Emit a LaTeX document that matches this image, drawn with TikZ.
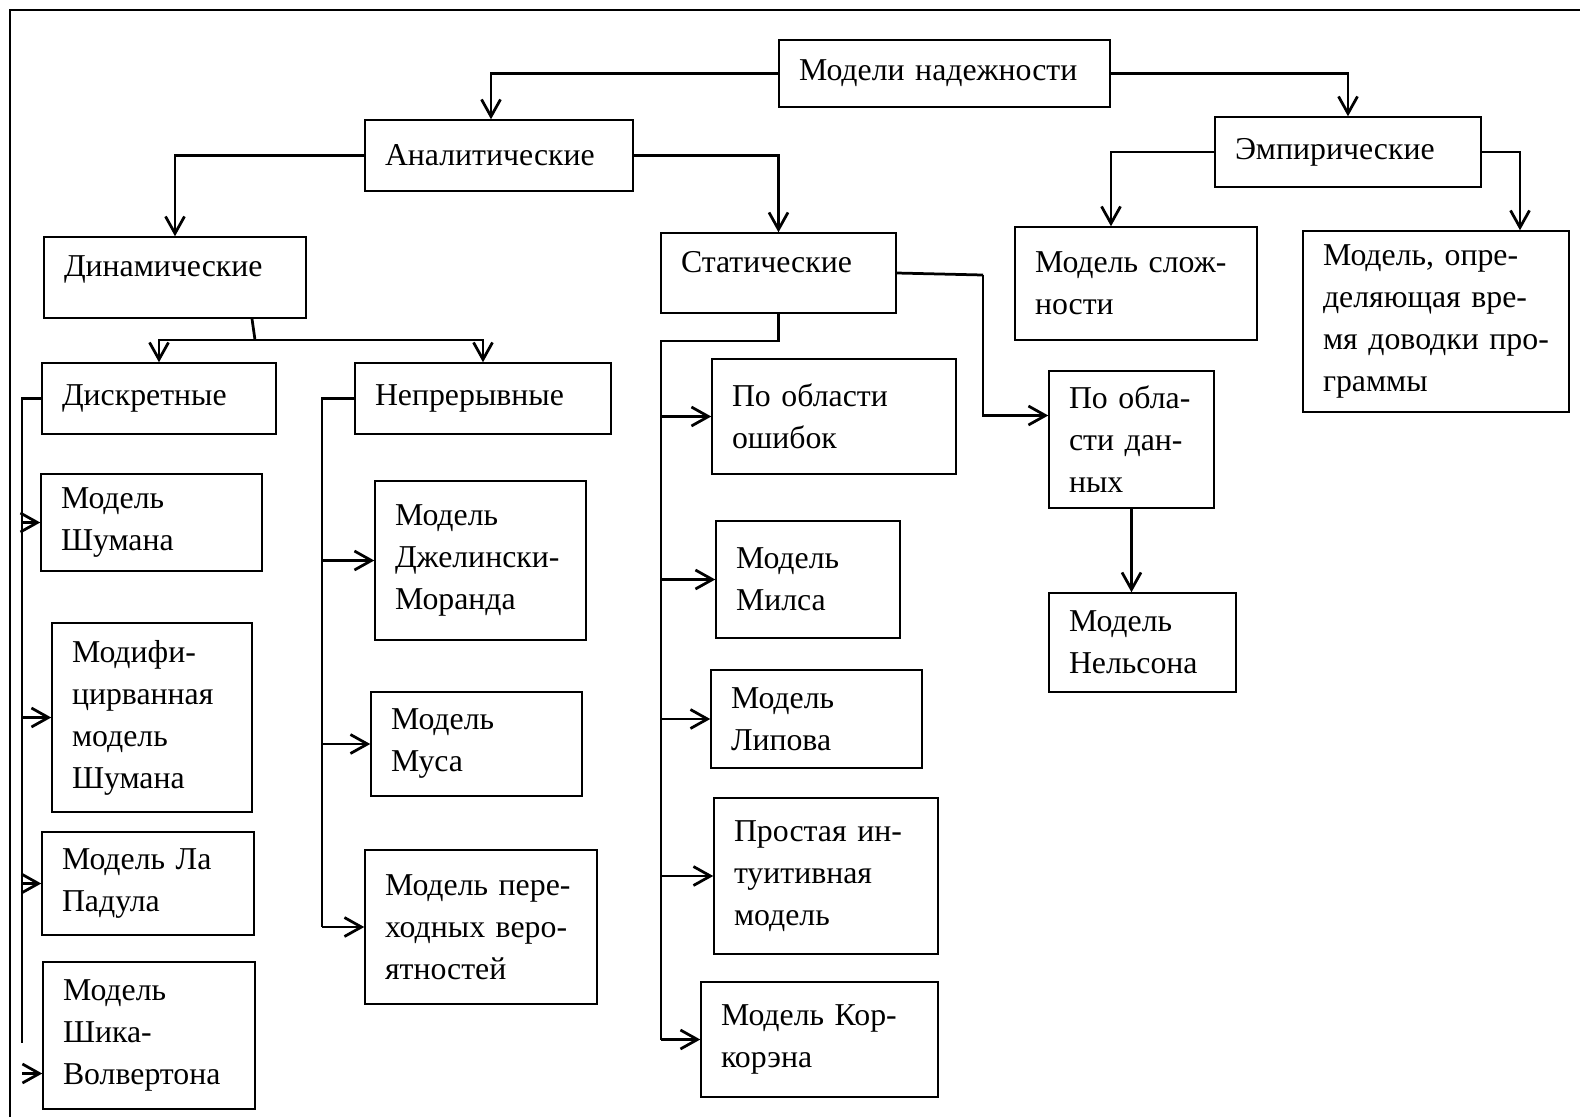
\documentclass[tikz,border=0pt]{standalone}
\usepackage{fontspec}
\setmainfont{Liberation Serif}
\usepackage{tikz}
\usetikzlibrary{arrows.meta,calc}

% one unit = one pixel of the drawing
\newlength\pxu
\setlength\pxu{0.02cm}

\tikzset{
  blok/.style 2 args={draw=black, line width=0.03cm, inner xsep=20\pxu, inner ysep=0pt,
                      align=left, minimum width=#1\pxu, minimum height=#2\pxu,
                      /utils/exec={\pgfmathsetlengthmacro\blokw{(#1-40)*0.02cm}},
                      text width=\blokw,
                      font=\fontsize{18.1pt}{23.9pt}\selectfont},
  raised/.style={text depth=22\pxu},
  line/.style={line width=0.055cm, black},
  arr/.style={line, -{Straight Barb[length=0.34cm,width=0.38cm]}},
  frame/.style={line width=0.04cm, black},
}

\begin{document}
\begin{tikzpicture}[x=0.02cm, y=-0.02cm]
  \useasboundingbox (0,0) rectangle (1580,1117);
  \draw[frame] (10,1117) -- (10,10) -- (1580,10);

  % upper levels
  \node[blok={331}{67}]  (root)  at (944.5,73.5) {Модели~надежности};
  \node[blok={268}{71}]  (ana)   at (499,155.5)  {Аналитические};
  \node[blok={266}{70}]  (emp)   at (1348,152)   {Эмпирические};
  \node[blok={262}{81}, raised] (dyn)  at (175,277.5) {Динамические};
  \node[blok={235}{80}, raised] (stat) at (778.5,273) {Статические};
  \node[blok={242}{113}] (compl) at (1136,283.5) {Модель~слож-\\ности};
  \node[blok={266}{181}] (tune)  at (1436,321.5) {Модель,~опре-\\деляющая~вре-\\мя~доводки~про-\\граммы};
  \node[blok={234}{71}]  (disc)  at (159,398.5)  {Дискретные};
  \node[blok={256}{71}]  (cont)  at (483,398.5)  {Непрерывные};
  \node[blok={244}{115}] (errs)  at (834,416.5)  {По~области\\ошибок};
  \node[blok={165}{137}] (data)  at (1131.5,439.5) {По~обла-\\сти~дан-\\ных};

  % models
  \node[blok={221}{97}]  (shum)    at (151.5,522.5) {Модель\\Шумана};
  \node[blok={200}{189}] (modshum) at (152,717.5)   {Модифи-\\цирванная\\модель\\Шумана};
  \node[blok={212}{103}] (lapad)   at (148,883.5)   {Модель~Ла\\Падула};
  \node[blok={212}{147}] (shik)    at (149,1035.5)  {Модель\\Шика-\\Волвертона};
  \node[blok={211}{159}] (jm)      at (480.5,560.5) {Модель\\Джелински-\\Моранда};
  \node[blok={211}{104}] (musa)    at (476.5,744)   {Модель\\Муса};
  \node[blok={232}{154}] (trans)   at (481,927)     {Модель~пере-\\ходных~веро-\\ятностей};
  \node[blok={184}{117}] (mills)   at (808,579.5)   {Модель\\Милса};
  \node[blok={211}{98}]  (lipov)   at (816.5,719)   {Модель\\Липова};
  \node[blok={224}{156}] (simple)  at (826,876)     {Простая~ин-\\туитивная\\модель};
  \node[blok={237}{115}] (corc)    at (819.5,1039.5) {Модель~Кор-\\корэна};
  \node[blok={187}{99}]  (nelson)  at (1142.5,642.5) {Модель\\Нельсона};

  % tree
  \draw[arr] (root.west) -| ([xshift=-8\pxu]ana.north);
  \draw[arr] (root.east) -| (emp.north);
  \draw[arr] (ana.west) -| (dyn.north);
  \draw[arr] (ana.east) -| (stat.north);
  \draw[arr] (emp.west) -| ([xshift=-25\pxu]compl.north);
  \draw[arr] (emp.east) -| ([xshift=84\pxu]tune.north);

  \coordinate (dsplit) at (255,340);
  \draw[line] ([xshift=77\pxu]dyn.south) -- (dsplit);
  \draw[arr] (dsplit) -| (disc.north);
  \draw[arr] (dsplit) -| (cont.north);

  \coordinate (dtrunk) at (22,1043);
  \draw[line] (disc.west) -| (dtrunk);
  \foreach \b in {shum,modshum,lapad}
    \draw[arr] (dtrunk |- \b.west) -- (\b.west);
  \coordinate (shikin) at ([yshift=-38\pxu]shik.west);
  \draw[arr] (dtrunk |- shikin) -- (shikin);

  \coordinate (ctrunk) at (322,927);
  \draw[line] (cont.west) -| (ctrunk);
  \foreach \b in {jm,musa,trans}
    \draw[arr] (ctrunk |- \b.west) -- (\b.west);

  \coordinate (sbend) at (661,341);
  \draw[line] (stat.south) |- (sbend) -- (sbend |- corc.west);
  \foreach \b in {errs,mills,lipov,simple,corc}
    \draw[arr] (sbend |- \b.west) -- (\b.west);

  \coordinate (sdata) at (983,275);
  \coordinate (datain) at ([yshift=24\pxu]data.west);
  \draw[line] (stat.east) -- (sdata);
  \draw[arr] (sdata) |- (datain);
  \draw[arr] (data.south) -- (data.south |- nelson.north);
\end{tikzpicture}
\end{document}
